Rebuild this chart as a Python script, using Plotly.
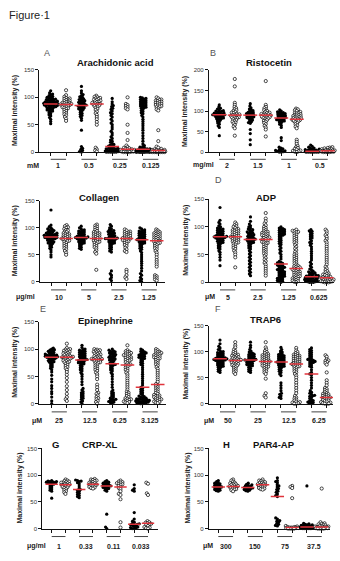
import numpy as np
import plotly.graph_objects as go

W, H = 340, 561

# ---------------- data ----------------
titles = ["Arachidonic acid", "Ristocetin", "Collagen", "ADP",
          "Epinephrine", "TRAP6", "CRP-XL", "PAR4-AP"]
letters = ["A", "B", "", "D", "E", "F", "G", "H"]
units = ["mM", "mg/ml", "μg/ml", "μM", "μM", "μM", "μg/ml", "μM"]
conc_labels = [["1", "0.5", "0.25", "0.125"], ["2", "1.5", "1", "0.5"],
               ["10", "5", "2.5", "1.25"], ["5", "2.5", "1.25", "0.625"],
               ["25", "12.5", "6.25", "3.125"], ["50", "25", "12.5", "6.25"],
               ["1", "0.33", "0.11", "0.033"], ["300", "150", "75", "37.5"]]
y_max = [150, 200, 150, 150, 150, 150, 150, 150]
y_ticks = [[0, 50, 100, 150], [0, 50, 100, 150, 200], [0, 50, 100, 150], [0, 50, 100, 150],
           [0, 50, 100, 150], [0, 50, 100, 150], [0, 50, 100, 150], [0, 50, 100, 150]]

medians = [[88, 87, 85, 88, 10, 5, 5, 3],
           [91, 90, 90, 90, 83, 80, 2, 3],
           [83, 80, 82, 80, 80, 80, 78, 76],
           [82, 82, 77, 77, 33, 25, 10, 8],
           [85, 85, 80, 81, 73, 71, 30, 35],
           [86, 83, 84, 81, 80, 76, 57, 12],
           [83, 82, 73, 83, 80, 78, 8, 10],
           [78, 79, 77, 82, 60, 2, 3, 3]]

arachidonic = [
    [112,108,106,105,103,102,101,100,99,98,97,97,96,95,95,94,93,93,92,92,91,91,90,90,89,89,88,88,88,87,87,86,86,85,85,84,84,83,82,82,81,80,79,78,77,76,75,74,72,70,68,66,63,60,56,52],
    [113,104,101,99,98,97,96,95,94,93,92,91,90,90,89,88,88,87,87,86,86,85,84,83,82,81,80,79,77,75,73,71,69,67,64,61,57],
    [120,112,108,105,103,101,100,98,97,96,95,94,93,92,91,90,89,88,87,86,85,85,84,83,82,81,80,79,78,77,75,73,71,69,67,65,62,58,40,10,7,5,3,1,0],
    [103,101,100,99,98,97,96,95,94,93,92,91,90,89,88,88,87,86,85,84,83,81,79,77,74,71,68,64,60,55,50,8,5,3,1],
    [98,92,88,85,83,80,78,75,72,70,67,64,60,57,53,50,46,42,38,35,31,28,25,22,20,18,16,14,13,12,11,10,9,8,7,7,6,6,5,5,4,4,3,3,2,2,2,1,1,1,0,0,0,0,0,0],
    [100,88,86,84,82,80,78,50,35,22,12,9,8,7,6,5,5,4,4,3,3,2,2,2,1,1,1,0,0,0,0],
    [100,99,98,97,96,95,94,93,92,91,90,89,88,87,86,85,84,83,82,81,80,78,76,74,72,70,67,64,60,56,52,48,44,40,35,30,25,20,15,12,10,9,8,7,6,6,5,5,4,4,4,3,3,3,2,2,2,2,1,1,1,1,1,0,0,0,0,0,0,0,0,0,0,0,0],
    [100,98,96,95,94,93,92,91,90,89,88,87,86,85,84,83,82,80,78,76,40,20,10,8,6,5,4,4,3,3,3,2,2,2,1,1,1,1,0,0,0,0,0,0,0,0],
]
ristocetin = [
    [115,110,107,105,103,101,100,99,98,97,96,95,94,93,92,92,91,91,90,90,89,88,87,86,85,84,83,82,81,80,78,76,74,71,68,64,60,40],
    [178,160,120,115,110,107,104,102,100,98,96,95,93,92,91,90,89,88,87,86,85,84,83,82,80,78,76,74,72,70,66,62,58,40],
    [118,112,108,105,103,101,100,98,97,96,95,94,93,92,91,90,89,88,87,86,85,84,83,82,80,78,76,74,72,70,55,45,30,18],
    [173,115,110,107,104,102,100,98,96,95,94,93,92,91,90,89,88,87,86,85,84,83,82,80,78,76,74,71,68,64,60,55,38],
    [103,100,98,97,96,95,94,93,92,91,90,89,88,87,86,85,84,83,82,81,80,79,78,77,76,75,73,71,68,65,60,35,28,12,10,8,6,5,4,3,2,1,0,0],
    [106,104,102,100,98,96,95,94,92,91,90,89,88,87,86,85,84,83,82,81,80,79,78,77,76,75,73,71,68,65,62,58,30,25,20,15,12,10,8,6,4,3,2,1,0],
    [17,14,12,10,9,8,7,6,5,5,4,4,3,3,3,2,2,2,2,1,1,1,1,0,0,0,0,0,0,0],
    [12,11,10,9,8,7,6,5,5,4,4,3,3,3,2,2,2,1,1,1,0,0,0,0],
]
collagen = [
    [133,105,102,100,98,97,96,95,94,93,92,91,90,90,89,88,88,87,87,86,86,85,85,84,84,83,83,82,82,81,81,80,80,79,78,77,76,75,74,73,72,71,70,68,66,64,62,59,55,50,46],
    [105,103,101,100,98,96,95,93,92,90,89,88,87,86,85,84,83,82,81,80,80,79,78,77,76,75,74,72,70,68,66,64,62,60,57,54,50],
    [103,100,98,96,95,94,93,92,91,90,89,88,87,86,85,84,84,83,83,82,82,81,81,80,80,79,78,77,76,75,74,73,72,71,70,68,66,64,62,60],
    [106,104,102,100,98,96,94,92,91,90,89,88,87,86,85,84,83,82,81,80,79,78,77,76,75,74,73,72,70,68,66,64,62,58,55,52,22],
    [106,103,100,98,96,95,94,93,92,91,90,89,88,87,86,85,84,83,82,81,81,80,80,79,79,78,77,76,75,74,73,72,71,70,68,66,64,62,60,57,55,20,15,12,8,5,2],
    [97,95,93,92,91,90,89,88,87,86,85,84,83,82,81,80,80,79,78,77,76,75,74,72,70,68,66,63,60,57,55,22,18,12,8,5],
    [100,98,96,95,94,93,92,91,90,89,88,87,86,85,84,83,82,81,80,79,78,78,77,76,75,74,73,72,71,70,68,66,64,62,60,57,54,50,46,42,38,34,30,25,20,15,12,8,5,2,0],
    [97,95,93,92,91,90,89,88,87,86,85,84,83,82,81,80,79,78,77,76,75,74,73,72,71,70,68,66,64,62,60,57,54,50,45,40,36,32,28,12,10,8,6,4,2],
]
adp = [
    [135,112,108,105,102,100,98,97,96,95,94,93,92,91,90,89,88,87,86,85,84,84,83,83,82,82,81,81,80,80,79,78,77,76,75,74,73,72,71,70,68,66,64,62,60,57,54,50,45,40,30],
    [108,105,103,101,100,98,96,95,94,93,92,91,90,89,88,87,86,85,84,83,82,82,81,80,79,78,77,76,75,74,73,72,71,70,68,66,64,62,60,57,54,50,45,27],
    [118,110,105,102,100,98,96,95,94,92,91,90,89,88,87,86,85,84,83,82,81,80,79,78,77,77,76,75,74,73,72,71,70,68,66,64,62,60,57,54,51,48,45,42,39,36,33,30,27,24,21,18,15,12],
    [125,115,110,106,103,100,98,96,94,92,91,90,89,88,87,86,85,84,83,82,81,80,79,78,77,76,75,74,73,72,71,70,68,66,64,62,60,58,56,54,52,50,47,44,41,38,35,32,28,24,20,16,12],
    [100,98,97,96,95,94,93,92,91,90,89,88,87,86,85,84,82,80,78,76,74,72,70,68,65,62,59,56,53,50,46,42,38,36,35,34,33,32,31,30,29,28,27,26,25,24,23,22,21,20,19,18,17,16,15,14,13,12,11,10,9,8,7,6,5,4,3,2,1,0],
    [95,93,92,91,90,88,86,84,82,80,78,76,74,72,70,67,64,61,58,55,52,50,48,46,44,42,40,38,36,34,32,30,29,28,27,26,25,24,23,22,21,20,19,18,17,16,15,14,13,12,11,10,9,8,7,6,5,4,3,2,1,0],
    [95,93,92,90,88,86,84,82,80,78,75,72,70,67,64,60,56,52,48,44,40,36,33,30,27,24,22,20,19,18,17,16,15,14,13,12,12,11,11,10,10,9,9,8,8,7,7,6,6,5,5,4,4,3,3,2,2,1,1,0,0,0],
    [95,92,88,85,82,78,75,72,68,64,60,56,52,48,44,40,36,32,28,25,22,20,18,16,15,14,13,12,11,10,9,8,8,7,7,6,6,5,5,4,4,3,3,2,2,1,1,0,0,0],
]
epinephrine = [
    [102,100,99,98,97,96,95,94,93,92,91,90,90,89,89,88,88,87,87,86,86,85,85,84,84,83,82,81,80,79,78,77,76,75,73,71,69,67,65,62,58,52,45,40,33,28,22,18,12,5,0],
    [110,102,100,99,98,97,96,95,94,93,92,91,90,89,88,87,86,86,85,85,84,84,83,82,81,80,79,78,77,76,75,73,71,69,67,65,62,58,53,47,40,32,25,18,12,8,5],
    [107,103,100,99,98,97,96,95,94,93,92,91,90,89,88,87,86,85,84,83,82,81,80,80,79,78,77,76,75,74,73,72,70,68,66,64,62,60,57,54,50,45,40,35,28,25,22,20,18,16,14,12,10,8,5,3,0],
    [100,99,98,97,96,95,94,93,92,91,90,89,88,87,86,85,84,83,82,82,81,81,80,79,78,77,76,75,74,72,70,68,66,64,62,60,57,54,50,45,35,30,25,20,18,15,12,10,8,5,3,0],
    [100,98,97,96,95,94,93,92,91,90,89,88,87,86,85,84,83,82,81,80,79,78,76,74,73,72,71,70,68,66,64,62,60,57,54,50,45,40,35,30,25,22,20,18,16,14,12,10,9,8,7,6,5,4,3,2,1],
    [107,98,96,95,94,93,92,91,90,89,88,87,86,85,84,83,82,81,80,79,78,76,74,72,71,70,68,66,64,62,60,57,54,50,46,42,38,34,30,26,22,20,18,16,14,12,10,9,8,7,6,5,4,3,2,1],
    [100,98,96,95,94,93,92,91,90,89,88,87,86,85,84,83,82,80,78,76,74,72,70,66,62,58,54,50,46,42,38,34,30,28,26,24,22,20,18,16,14,13,12,11,10,9,9,8,8,7,7,6,6,5,5,4,4,3,3,2,2,1,1,0,0],
    [100,98,96,95,94,93,92,91,90,89,88,87,86,85,84,83,82,80,78,76,74,72,70,67,64,60,56,52,48,44,40,36,34,32,30,28,26,24,22,20,18,16,15,14,13,12,11,10,9,8,7,6,5,4,3,2,1],
]
trap6 = [
    [122,115,110,107,104,102,100,99,98,97,96,95,94,93,92,91,90,89,88,88,87,87,86,86,85,85,84,84,83,83,82,81,80,79,78,77,76,75,74,73,72,71,70,68,66,64,62,60],
    [118,112,108,104,101,99,97,95,94,93,92,91,90,89,88,87,86,85,84,84,83,83,82,81,80,79,78,77,76,75,74,73,72,70,68,66,64,62,60,57],
    [118,112,108,104,101,99,97,96,95,94,93,92,91,90,89,88,87,86,85,85,84,84,83,83,82,81,80,79,78,77,76,75,74,73,72,70,68,66,64,62,60],
    [118,108,104,101,99,97,95,94,93,92,91,90,89,88,87,86,85,84,83,82,81,81,80,79,78,77,76,75,74,73,72,71,70,68,66,64,62,60,57,48,20,15,12],
    [108,104,101,99,97,95,94,93,92,91,90,89,88,87,86,85,84,83,82,81,80,80,79,78,77,76,75,74,73,72,71,70,68,66,64,62,60,57,54,40,35,30,25,20,18,15,12,10],
    [107,102,99,97,95,94,93,92,91,90,89,88,87,86,85,84,83,82,81,80,79,78,77,76,76,75,74,73,72,71,70,68,66,64,62,60,57,54,50,45,40,35,30,25,20,15,12,10,8,6,4,3,2,1,0,0],
    [107,104,102,100,98,96,94,92,90,88,86,85,84,83,82,81,80,79,78,76,74,72,70,65,60,57,55,50,45,40,35,30,25,22,20,18,16,15,14,12,10,8,6,5,4,3,2,1,0],
    [93,90,85,83,82,80,78,75,60,45,40,35,30,28,26,24,22,20,19,18,17,16,15,14,13,12,12,11,10,9,8,7,6,5,4,3,2,1,0,0,0],
]
crp_xl = [
    [90,89,88,88,87,87,86,85,85,84,83,82,80,78,76,74,72,70,57],
    [92,90,89,88,87,86,86,85,84,83,82,82,81,80,79,78,77,76,74,72,70,68,65],
    [91,90,89,88,86,84,80,76,73,72,70,68,66,64,62,60,58],
    [93,92,91,90,89,88,87,86,85,84,83,82,82,81,80,79,78,77,76,75],
    [90,88,87,86,85,84,83,82,81,80,80,79,78,77,76,75,74,72,70,27,3,0],
    [90,88,87,86,85,84,83,82,80,78,76,74,70,65,63,55,12,2],
    [82,75,72,70,30,18,14,12,10,9,8,8,7,6,5,4,3,2,1,0,0],
    [86,84,66,63,14,12,11,10,9,8,7,5,3,2,1,0],
]
par4_ap = [
    [90,88,86,85,84,83,82,81,80,79,78,78,77,76,75,74,73,72,71,70],
    [92,90,88,86,85,84,83,82,81,80,79,79,78,77,76,75,74,73,72,70],
    [85,83,82,81,80,79,78,77,77,76,75,75,74,73,72,71,70],
    [92,90,89,88,87,86,85,84,83,82,82,81,80,79,78,77,76,75,74,73],
    [95,90,88,86,82,80,78,75,73,70,68,65,62,60,20,18,15,14,12,10,8,6,5],
    [80,78,76,57,5,4,3,3,2,2,2,1,1,1,0,0,0,0],
    [80,10,9,8,7,7,6,6,5,5,4,4,4,3,3,3,2,2,2,1,1,1,0,0,0,0,0],
    [75,12,10,9,8,7,6,5,5,4,4,3,3,3,2,2,2,1,1,1,0,0,0,0],
]
panels_data = [arachidonic, ristocetin, collagen, adp, epinephrine, trap6, crp_xl, par4_ap]

# ---------------- layout geometry (pixels) ----------------
geom = [
    dict(xl=39.3, xr=166, y0=150.7, yt=67.7, g1=50.7, g8=158.3, ax=15, tx=115.5, ty=60, lx=47, ly=51, ux=33, laby=164, uly=158),
    dict(xl=209, xr=335, y0=150.7, yt=67.7, g1=219.3, g8=327.7, ax=185, tx=269, ty=60, lx=213.3, ly=51, ux=203, laby=164, uly=158),
    dict(xl=40, xr=165, y0=281.7, yt=200, g1=51, g8=156.7, ax=15, tx=99, ty=196.7, lx=0, ly=0, ux=25, laby=297.5, uly=290),
    dict(xl=209.3, xr=334, y0=282.3, yt=198.3, g1=220, g8=326.7, ax=186, tx=266, ty=196.7, lx=218, ly=179, ux=210, laby=297.5, uly=290),
    dict(xl=39.3, xr=165.7, y0=405, yt=322.3, g1=51.7, g8=157.7, ax=15, tx=105.7, ty=321, lx=43, ly=309, ux=36.7, laby=422.3, uly=413.3),
    dict(xl=209, xr=333, y0=405, yt=326, g1=220, g8=326.7, ax=186, tx=265, ty=320, lx=218, ly=309, ux=209, laby=422.3, uly=413.3),
    dict(xl=42.3, xr=158, y0=531.3, yt=450.3, g1=51.7, g8=148, ax=20, tx=100, ty=446, lx=55, ly=446, ux=36, laby=549.3, uly=539.3),
    dict(xl=209, xr=330, y0=531.3, yt=450.3, g1=218.3, g8=321.7, ax=188, tx=274, ty=446, lx=226.7, ly=446, ux=208, laby=549.3, uly=539.3),
]

FONT = "Liberation Sans"
RED = "#e0343c"


def px(x):
    return x / W


def py(y):
    return 1 - y / H


def swarm(vals, ppy, d, maxw):
    vals = np.asarray(vals, float)
    order = np.argsort(vals, kind="stable")
    xs = np.zeros(len(vals))
    pxs, pys = [], []
    for idx in order:
        y = vals[idx] * ppy
        nb = [(a, b) for a, b in zip(pxs, pys) if abs(b - y) < d]
        cands = [0.0]
        for a, b in nb:
            r = np.sqrt(max(d * d - (b - y) ** 2, 0))
            cands += [a - r, a + r]
        cands = sorted(cands, key=lambda c: (abs(c), c))
        chosen = None
        for c in cands:
            if abs(c) > maxw + 1e-9:
                continue
            if all((c - a) ** 2 + (y - b) ** 2 >= d * d - 1e-6 for a, b in nb):
                chosen = c
                break
        if chosen is None:
            grid = np.linspace(-maxw, maxw, 41)
            chosen = max(grid, key=lambda c: (min((c - a) ** 2 + (y - b) ** 2 for a, b in nb), -abs(c)))
        pxs.append(chosen)
        pys.append(y)
        xs[idx] = chosen
    return xs


fig = go.Figure()
layout = dict(width=W, height=H, margin=dict(l=0, r=0, t=0, b=0),
              paper_bgcolor="white", plot_bgcolor="white", showlegend=False)
annotations = []
shapes = []

for i in range(8):
    g = geom[i]
    n = i + 1
    xa = "x" if n == 1 else f"x{n}"
    ya = "y" if n == 1 else f"y{n}"
    sp = (g["g8"] - g["g1"]) / 7.0
    xr = [1 - (g["g1"] - g["xl"]) / sp, 8 + (g["xr"] - g["g8"]) / sp]
    ppy = (g["y0"] - g["yt"]) / y_max[i]
    layout["xaxis" if n == 1 else f"xaxis{n}"] = dict(
        domain=[px(g["xl"]), px(g["xr"])], range=xr, anchor=ya,
        showline=True, linecolor="#111", linewidth=1.2, showgrid=False, zeroline=False,
        tickmode="array", tickvals=list(range(1, 9)), ticks="outside", ticklen=3,
        tickwidth=1, tickcolor="#111", showticklabels=False, fixedrange=True)
    layout["yaxis" if n == 1 else f"yaxis{n}"] = dict(
        domain=[py(g["y0"]), py(g["yt"])], range=[0, y_max[i]], anchor=xa,
        showline=True, linecolor="#111", linewidth=1.2, showgrid=False, zeroline=False,
        tickmode="array", tickvals=y_ticks[i], ticks="outside", ticklen=3, tickwidth=1,
        tickcolor="#111", tickfont=dict(family=FONT, size=6, color="#333"), fixedrange=True)

    for k, vals in enumerate(panels_data[i]):
        grp = k + 1
        filled = (k % 2 == 0)
        offs = swarm(vals, ppy, 2.0, 0.45 * sp)
        xs = grp + offs / sp
        if filled:
            marker = dict(size=3.2, color="#000", line=dict(width=0))
        else:
            marker = dict(size=3.2, color="white", line=dict(width=0.7, color="#000"))
        fig.add_trace(go.Scatter(x=xs, y=vals, mode="markers", marker=marker,
                                 cliponaxis=False, xaxis=xa, yaxis=ya, hoverinfo="skip"))
    mx, my = [], []
    for k, m in enumerate(medians[i]):
        mx += [k + 1 - 0.45, k + 1 + 0.45, None]
        my += [m, m, None]
    fig.add_trace(go.Scatter(x=mx, y=my, mode="lines", line=dict(color=RED, width=1.5),
                             xaxis=xa, yaxis=ya, hoverinfo="skip"))

    annotations.append(dict(text=f"<b>{titles[i]}</b>", x=px(g["tx"]), y=py(g["ty"]),
                            xref="paper", yref="paper", showarrow=False,
                            xanchor="center", yanchor="middle",
                            font=dict(family=FONT, size=9.5, color="#111")))
    if letters[i]:
        bold = letters[i] in ("G", "H")
        annotations.append(dict(text=(f"<b>{letters[i]}</b>" if bold else letters[i]),
                                x=px(g["lx"]), y=py(g["ly"]), xref="paper", yref="paper",
                                showarrow=False, xanchor="center", yanchor="middle",
                                font=dict(family=FONT, size=9.5 if bold else 9,
                                          color="#111" if bold else "#555")))
    annotations.append(dict(text="<b>Maximal intensity (%)</b>", x=px(g["ax"]),
                            y=py((g["y0"] + g["yt"]) / 2), xref="paper", yref="paper",
                            showarrow=False, textangle=-90, xanchor="center", yanchor="middle",
                            font=dict(family=FONT, size=7, color="#222")))
    annotations.append(dict(text=f"<b>{units[i]}</b>", x=px(g["ux"]), y=py(g["laby"]),
                            xref="paper", yref="paper", showarrow=False,
                            xanchor="center", yanchor="middle",
                            font=dict(family=FONT, size=7, color="#222")))
    for j, lab in enumerate(conc_labels[i]):
        annotations.append(dict(text=f"<b>{lab}</b>", x=2 * j + 1.5, y=py(g["laby"]),
                                xref=xa, yref="paper", showarrow=False,
                                xanchor="center", yanchor="middle",
                                font=dict(family=FONT, size=7, color="#222")))
        shapes.append(dict(type="line", xref=xa, yref="paper", x0=2 * j + 1, x1=2 * j + 2,
                           y0=py(g["uly"]), y1=py(g["uly"]),
                           line=dict(color="#444", width=1)))

annotations.append(dict(text="Figure·1", x=px(7), y=py(12), xref="paper", yref="paper",
                        showarrow=False, xanchor="left", yanchor="middle",
                        font=dict(family=FONT, size=11, color="#222")))

layout["annotations"] = annotations
layout["shapes"] = shapes
fig.update_layout(**layout)
fig.write_html("out.html")
